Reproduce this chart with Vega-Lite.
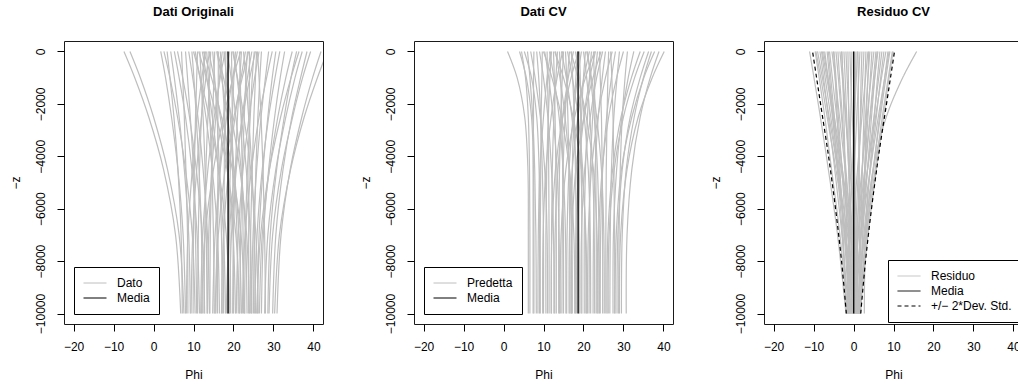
{
  "$schema": "https://vega.github.io/schema/vega-lite/v6.json",
  "background": "white",
  "padding": {"left": 8, "top": 5, "right": 5, "bottom": 5},
  "config": {
    "font": "Liberation Sans",
    "view": {"stroke": "#1a1a1a", "strokeWidth": 1},
    "axis": {
      "domain": false, "grid": false, "ticks": true, "tickColor": "#000", "tickSize": 7, "tickWidth": 1,
      "labelFont": "Liberation Sans", "labelFontSize": 12, "labelColor": "#000", "format": "d",
      "titleFont": "Liberation Sans", "titleFontSize": 12, "titleFontWeight": "normal", "titleColor": "#000"
    },
    "axisX": {"labelPadding": 10, "titlePadding": 17, "labelAngle": 0},
    "axisY": {"labelAngle": -90, "labelAlign": "center", "labelBaseline": "bottom", "labelPadding": 10, "titlePadding": 12},
    "title": {"font": "Liberation Sans", "fontSize": 13, "fontWeight": "bold", "color": "#000", "anchor": "middle", "frame": "group", "offset": 22},
    "legend": {
      "orient": "bottom-left", "offset": 10, "strokeColor": "#000", "fillColor": "#fff", "padding": 9, "cornerRadius": 0,
      "labelFont": "Liberation Sans", "labelFontSize": 12, "labelColor": "#000", "labelOffset": 10,
      "symbolType": "stroke", "symbolSize": 529, "symbolStrokeWidth": 1, "rowPadding": 1, "clipHeight": 14
    }
  },
  "datasets": {
    "orig": [
      {"c":1,"z":0,"v":-7.4},{"c":1,"z":-1000,"v":-4.7},{"c":1,"z":-2500,"v":-1.2},{"c":1,"z":-4500,"v":2.5},{"c":1,"z":-7000,"v":5.5},{"c":1,"z":-10000,"v":6.8},
      {"c":2,"z":0,"v":-5.9},{"c":2,"z":-1000,"v":-3.3},{"c":2,"z":-2500,"v":0.0},{"c":2,"z":-4500,"v":3.5},{"c":2,"z":-7000,"v":6.4},{"c":2,"z":-10000,"v":7.6},
      {"c":3,"z":0,"v":1.8},{"c":3,"z":-1000,"v":3.0},{"c":3,"z":-2500,"v":4.5},{"c":3,"z":-4500,"v":6.1},{"c":3,"z":-7000,"v":7.4},{"c":3,"z":-10000,"v":8.0},
      {"c":4,"z":0,"v":2.6},{"c":4,"z":-1000,"v":4.1},{"c":4,"z":-2500,"v":6.0},{"c":4,"z":-4500,"v":8.0},{"c":4,"z":-7000,"v":9.7},{"c":4,"z":-10000,"v":10.4},
      {"c":5,"z":0,"v":3.4},{"c":5,"z":-1000,"v":4.1},{"c":5,"z":-2500,"v":5.1},{"c":5,"z":-4500,"v":6.1},{"c":5,"z":-7000,"v":6.9},{"c":5,"z":-10000,"v":7.2},
      {"c":6,"z":0,"v":4.3},{"c":6,"z":-1000,"v":5.2},{"c":6,"z":-2500,"v":6.4},{"c":6,"z":-4500,"v":7.7},{"c":6,"z":-7000,"v":8.8},{"c":6,"z":-10000,"v":9.2},
      {"c":7,"z":0,"v":5.2},{"c":7,"z":-1000,"v":6.4},{"c":7,"z":-2500,"v":8.0},{"c":7,"z":-4500,"v":9.6},{"c":7,"z":-7000,"v":10.9},{"c":7,"z":-10000,"v":11.5},
      {"c":8,"z":0,"v":6.0},{"c":8,"z":-1000,"v":7.3},{"c":8,"z":-2500,"v":9.0},{"c":8,"z":-4500,"v":10.7},{"c":8,"z":-7000,"v":12.2},{"c":8,"z":-10000,"v":12.8},
      {"c":9,"z":0,"v":7.0},{"c":9,"z":-1000,"v":7.3},{"c":9,"z":-2500,"v":7.7},{"c":9,"z":-4500,"v":8.1},{"c":9,"z":-7000,"v":8.5},{"c":9,"z":-10000,"v":8.6},
      {"c":10,"z":0,"v":8.0},{"c":10,"z":-1000,"v":8.5},{"c":10,"z":-2500,"v":9.2},{"c":10,"z":-4500,"v":10.0},{"c":10,"z":-7000,"v":10.5},{"c":10,"z":-10000,"v":10.8},
      {"c":11,"z":0,"v":8.8},{"c":11,"z":-1000,"v":9.8},{"c":11,"z":-2500,"v":11.1},{"c":11,"z":-4500,"v":12.4},{"c":11,"z":-7000,"v":13.5},{"c":11,"z":-10000,"v":14.0},
      {"c":12,"z":0,"v":9.6},{"c":12,"z":-1000,"v":10.1},{"c":12,"z":-2500,"v":10.7},{"c":12,"z":-4500,"v":11.4},{"c":12,"z":-7000,"v":12.0},{"c":12,"z":-10000,"v":12.2},
      {"c":13,"z":0,"v":10.4},{"c":13,"z":-1000,"v":11.6},{"c":13,"z":-2500,"v":13.1},{"c":13,"z":-4500,"v":14.7},{"c":13,"z":-7000,"v":16.0},{"c":13,"z":-10000,"v":16.5},
      {"c":14,"z":0,"v":11.0},{"c":14,"z":-1000,"v":10.8},{"c":14,"z":-2500,"v":10.5},{"c":14,"z":-4500,"v":10.2},{"c":14,"z":-7000,"v":10.0},{"c":14,"z":-10000,"v":9.9},
      {"c":15,"z":0,"v":11.6},{"c":15,"z":-1000,"v":11.9},{"c":15,"z":-2500,"v":12.4},{"c":15,"z":-4500,"v":12.9},{"c":15,"z":-7000,"v":13.2},{"c":15,"z":-10000,"v":13.4},
      {"c":16,"z":0,"v":12.2},{"c":16,"z":-1000,"v":13.3},{"c":16,"z":-2500,"v":14.7},{"c":16,"z":-4500,"v":16.2},{"c":16,"z":-7000,"v":17.5},{"c":16,"z":-10000,"v":18.0},
      {"c":17,"z":0,"v":12.8},{"c":17,"z":-1000,"v":12.5},{"c":17,"z":-2500,"v":12.0},{"c":17,"z":-4500,"v":11.5},{"c":17,"z":-7000,"v":11.2},{"c":17,"z":-10000,"v":11.0},
      {"c":18,"z":0,"v":13.3},{"c":18,"z":-1000,"v":13.7},{"c":18,"z":-2500,"v":14.1},{"c":18,"z":-4500,"v":14.6},{"c":18,"z":-7000,"v":15.0},{"c":18,"z":-10000,"v":15.2},
      {"c":19,"z":0,"v":13.8},{"c":19,"z":-1000,"v":15.1},{"c":19,"z":-2500,"v":16.7},{"c":19,"z":-4500,"v":18.5},{"c":19,"z":-7000,"v":19.9},{"c":19,"z":-10000,"v":20.5},
      {"c":20,"z":0,"v":14.3},{"c":20,"z":-1000,"v":14.0},{"c":20,"z":-2500,"v":13.6},{"c":20,"z":-4500,"v":13.1},{"c":20,"z":-7000,"v":12.8},{"c":20,"z":-10000,"v":12.6},
      {"c":21,"z":0,"v":14.8},{"c":21,"z":-1000,"v":15.3},{"c":21,"z":-2500,"v":15.9},{"c":21,"z":-4500,"v":16.5},{"c":21,"z":-7000,"v":17.0},{"c":21,"z":-10000,"v":17.2},
      {"c":22,"z":0,"v":15.3},{"c":22,"z":-1000,"v":15.1},{"c":22,"z":-2500,"v":14.8},{"c":22,"z":-4500,"v":14.5},{"c":22,"z":-7000,"v":14.2},{"c":22,"z":-10000,"v":14.1},
      {"c":23,"z":0,"v":15.8},{"c":23,"z":-1000,"v":17.0},{"c":23,"z":-2500,"v":18.5},{"c":23,"z":-4500,"v":20.1},{"c":23,"z":-7000,"v":21.4},{"c":23,"z":-10000,"v":22.0},
      {"c":24,"z":0,"v":16.2},{"c":24,"z":-1000,"v":16.2},{"c":24,"z":-2500,"v":16.1},{"c":24,"z":-4500,"v":16.1},{"c":24,"z":-7000,"v":16.0},{"c":24,"z":-10000,"v":16.0},
      {"c":25,"z":0,"v":16.7},{"c":25,"z":-1000,"v":17.2},{"c":25,"z":-2500,"v":17.8},{"c":25,"z":-4500,"v":18.5},{"c":25,"z":-7000,"v":19.1},{"c":25,"z":-10000,"v":19.3},
      {"c":26,"z":0,"v":17.2},{"c":26,"z":-1000,"v":16.5},{"c":26,"z":-2500,"v":15.6},{"c":26,"z":-4500,"v":14.6},{"c":26,"z":-7000,"v":13.8},{"c":26,"z":-10000,"v":13.5},
      {"c":27,"z":0,"v":17.6},{"c":27,"z":-1000,"v":18.3},{"c":27,"z":-2500,"v":19.2},{"c":27,"z":-4500,"v":20.1},{"c":27,"z":-7000,"v":20.9},{"c":27,"z":-10000,"v":21.2},
      {"c":28,"z":0,"v":18.1},{"c":28,"z":-1000,"v":18.0},{"c":28,"z":-2500,"v":17.8},{"c":28,"z":-4500,"v":17.7},{"c":28,"z":-7000,"v":17.6},{"c":28,"z":-10000,"v":17.5},
      {"c":29,"z":0,"v":18.5},{"c":29,"z":-1000,"v":19.4},{"c":29,"z":-2500,"v":20.6},{"c":29,"z":-4500,"v":21.9},{"c":29,"z":-7000,"v":23.0},{"c":29,"z":-10000,"v":23.4},
      {"c":30,"z":0,"v":19.0},{"c":30,"z":-1000,"v":18.4},{"c":30,"z":-2500,"v":17.5},{"c":30,"z":-4500,"v":16.6},{"c":30,"z":-7000,"v":15.9},{"c":30,"z":-10000,"v":15.6},
      {"c":31,"z":0,"v":19.5},{"c":31,"z":-1000,"v":19.6},{"c":31,"z":-2500,"v":19.7},{"c":31,"z":-4500,"v":19.8},{"c":31,"z":-7000,"v":20.0},{"c":31,"z":-10000,"v":20.0},
      {"c":32,"z":0,"v":20.0},{"c":32,"z":-1000,"v":20.9},{"c":32,"z":-2500,"v":22.0},{"c":32,"z":-4500,"v":23.2},{"c":32,"z":-7000,"v":24.2},{"c":32,"z":-10000,"v":24.6},
      {"c":33,"z":0,"v":20.5},{"c":33,"z":-1000,"v":20.1},{"c":33,"z":-2500,"v":19.7},{"c":33,"z":-4500,"v":19.2},{"c":33,"z":-7000,"v":18.8},{"c":33,"z":-10000,"v":18.6},
      {"c":34,"z":0,"v":21.0},{"c":34,"z":-1000,"v":19.8},{"c":34,"z":-2500,"v":18.3},{"c":34,"z":-4500,"v":16.7},{"c":34,"z":-7000,"v":15.4},{"c":34,"z":-10000,"v":14.8},
      {"c":35,"z":0,"v":21.5},{"c":35,"z":-1000,"v":21.7},{"c":35,"z":-2500,"v":21.9},{"c":35,"z":-4500,"v":22.2},{"c":35,"z":-7000,"v":22.4},{"c":35,"z":-10000,"v":22.5},
      {"c":36,"z":0,"v":22.0},{"c":36,"z":-1000,"v":21.6},{"c":36,"z":-2500,"v":21.0},{"c":36,"z":-4500,"v":20.5},{"c":36,"z":-7000,"v":20.0},{"c":36,"z":-10000,"v":19.8},
      {"c":37,"z":0,"v":22.5},{"c":37,"z":-1000,"v":23.1},{"c":37,"z":-2500,"v":23.8},{"c":37,"z":-4500,"v":24.6},{"c":37,"z":-7000,"v":25.2},{"c":37,"z":-10000,"v":25.5},
      {"c":38,"z":0,"v":23.0},{"c":38,"z":-1000,"v":21.9},{"c":38,"z":-2500,"v":20.4},{"c":38,"z":-4500,"v":18.8},{"c":38,"z":-7000,"v":17.5},{"c":38,"z":-10000,"v":17.0},
      {"c":39,"z":0,"v":23.5},{"c":39,"z":-1000,"v":23.1},{"c":39,"z":-2500,"v":22.7},{"c":39,"z":-4500,"v":22.2},{"c":39,"z":-7000,"v":21.8},{"c":39,"z":-10000,"v":21.6},
      {"c":40,"z":0,"v":24.0},{"c":40,"z":-1000,"v":24.0},{"c":40,"z":-2500,"v":23.9},{"c":40,"z":-4500,"v":23.9},{"c":40,"z":-7000,"v":23.8},{"c":40,"z":-10000,"v":23.8},
      {"c":41,"z":0,"v":24.6},{"c":41,"z":-1000,"v":23.5},{"c":41,"z":-2500,"v":22.2},{"c":41,"z":-4500,"v":20.7},{"c":41,"z":-7000,"v":19.5},{"c":41,"z":-10000,"v":19.0},
      {"c":42,"z":0,"v":25.2},{"c":42,"z":-1000,"v":24.7},{"c":42,"z":-2500,"v":24.2},{"c":42,"z":-4500,"v":23.5},{"c":42,"z":-7000,"v":23.0},{"c":42,"z":-10000,"v":22.8},
      {"c":43,"z":0,"v":25.8},{"c":43,"z":-1000,"v":25.5},{"c":43,"z":-2500,"v":25.1},{"c":43,"z":-4500,"v":24.7},{"c":43,"z":-7000,"v":24.3},{"c":43,"z":-10000,"v":24.2},
      {"c":44,"z":0,"v":26.4},{"c":44,"z":-1000,"v":25.3},{"c":44,"z":-2500,"v":23.9},{"c":44,"z":-4500,"v":22.4},{"c":44,"z":-7000,"v":21.2},{"c":44,"z":-10000,"v":20.7},
      {"c":45,"z":0,"v":27.0},{"c":45,"z":-1000,"v":26.6},{"c":45,"z":-2500,"v":26.1},{"c":45,"z":-4500,"v":25.6},{"c":45,"z":-7000,"v":25.2},{"c":45,"z":-10000,"v":25.0},
      {"c":46,"z":0,"v":28.8},{"c":46,"z":-1000,"v":28.0},{"c":46,"z":-2500,"v":26.9},{"c":46,"z":-4500,"v":25.8},{"c":46,"z":-7000,"v":24.9},{"c":46,"z":-10000,"v":24.5},
      {"c":47,"z":0,"v":29.7},{"c":47,"z":-1000,"v":28.3},{"c":47,"z":-2500,"v":26.4},{"c":47,"z":-4500,"v":24.5},{"c":47,"z":-7000,"v":22.9},{"c":47,"z":-10000,"v":22.2},
      {"c":48,"z":0,"v":30.6},{"c":48,"z":-1000,"v":29.7},{"c":48,"z":-2500,"v":28.6},{"c":48,"z":-4500,"v":27.4},{"c":48,"z":-7000,"v":26.4},{"c":48,"z":-10000,"v":26.0},
      {"c":49,"z":0,"v":31.6},{"c":49,"z":-1000,"v":30.4},{"c":49,"z":-2500,"v":28.8},{"c":49,"z":-4500,"v":27.2},{"c":49,"z":-7000,"v":25.9},{"c":49,"z":-10000,"v":25.3},
      {"c":50,"z":0,"v":32.8},{"c":50,"z":-1000,"v":31.7},{"c":50,"z":-2500,"v":30.3},{"c":50,"z":-4500,"v":28.8},{"c":50,"z":-7000,"v":27.5},{"c":50,"z":-10000,"v":27.0},
      {"c":51,"z":0,"v":34.7},{"c":51,"z":-1000,"v":33.1},{"c":51,"z":-2500,"v":31.1},{"c":51,"z":-4500,"v":29.0},{"c":51,"z":-7000,"v":27.2},{"c":51,"z":-10000,"v":26.5},
      {"c":52,"z":0,"v":35.8},{"c":52,"z":-1000,"v":34.4},{"c":52,"z":-2500,"v":32.7},{"c":52,"z":-4500,"v":30.8},{"c":52,"z":-7000,"v":29.2},{"c":52,"z":-10000,"v":28.6},
      {"c":53,"z":0,"v":37.2},{"c":53,"z":-1000,"v":35.4},{"c":53,"z":-2500,"v":33.1},{"c":53,"z":-4500,"v":30.6},{"c":53,"z":-7000,"v":28.6},{"c":53,"z":-10000,"v":27.8},
      {"c":54,"z":0,"v":38.4},{"c":54,"z":-1000,"v":36.8},{"c":54,"z":-2500,"v":34.6},{"c":54,"z":-4500,"v":32.4},{"c":54,"z":-7000,"v":30.6},{"c":54,"z":-10000,"v":29.8},
      {"c":55,"z":0,"v":39.3},{"c":55,"z":-1000,"v":37.3},{"c":55,"z":-2500,"v":34.8},{"c":55,"z":-4500,"v":32.0},{"c":55,"z":-7000,"v":29.8},{"c":55,"z":-10000,"v":28.9},
      {"c":56,"z":0,"v":41.9},{"c":56,"z":-1000,"v":39.8},{"c":56,"z":-2500,"v":37.1},{"c":56,"z":-4500,"v":34.2},{"c":56,"z":-7000,"v":31.9},{"c":56,"z":-10000,"v":30.9},
      {"c":57,"z":0,"v":43.5},{"c":57,"z":-1000,"v":41.0},{"c":57,"z":-2500,"v":37.7},{"c":57,"z":-4500,"v":34.3},{"c":57,"z":-7000,"v":31.5},{"c":57,"z":-10000,"v":30.3},
      {"c":58,"z":0,"v":36.4},{"c":58,"z":-1000,"v":34.4},{"c":58,"z":-2500,"v":31.8},{"c":58,"z":-4500,"v":29.0},{"c":58,"z":-7000,"v":26.8},{"c":58,"z":-10000,"v":25.8},
      {"c":59,"z":0,"v":10.0},{"c":59,"z":-1000,"v":11.7},{"c":59,"z":-2500,"v":13.9},{"c":59,"z":-4500,"v":16.3},{"c":59,"z":-7000,"v":18.2},{"c":59,"z":-10000,"v":19.0},
      {"c":60,"z":0,"v":12.5},{"c":60,"z":-1000,"v":14.5},{"c":60,"z":-2500,"v":17.0},{"c":60,"z":-4500,"v":19.7},{"c":60,"z":-7000,"v":21.9},{"c":60,"z":-10000,"v":22.8},
      {"c":61,"z":0,"v":14.0},{"c":61,"z":-1000,"v":13.1},{"c":61,"z":-2500,"v":12.0},{"c":61,"z":-4500,"v":10.8},{"c":61,"z":-7000,"v":9.8},{"c":61,"z":-10000,"v":9.4},
      {"c":62,"z":0,"v":16.0},{"c":62,"z":-1000,"v":17.5},{"c":62,"z":-2500,"v":19.5},{"c":62,"z":-4500,"v":21.6},{"c":62,"z":-7000,"v":23.3},{"c":62,"z":-10000,"v":24.0},
      {"c":63,"z":0,"v":17.9},{"c":63,"z":-1000,"v":16.7},{"c":63,"z":-2500,"v":15.2},{"c":63,"z":-4500,"v":13.6},{"c":63,"z":-7000,"v":12.3},{"c":63,"z":-10000,"v":11.8},
      {"c":64,"z":0,"v":19.8},{"c":64,"z":-1000,"v":21.0},{"c":64,"z":-2500,"v":22.6},{"c":64,"z":-4500,"v":24.3},{"c":64,"z":-7000,"v":25.6},{"c":64,"z":-10000,"v":26.2},
      {"c":65,"z":0,"v":21.8},{"c":65,"z":-1000,"v":19.9},{"c":65,"z":-2500,"v":17.5},{"c":65,"z":-4500,"v":15.0},{"c":65,"z":-7000,"v":12.9},{"c":65,"z":-10000,"v":12.0},
      {"c":66,"z":0,"v":23.8},{"c":66,"z":-1000,"v":22.2},{"c":66,"z":-2500,"v":20.1},{"c":66,"z":-4500,"v":17.9},{"c":66,"z":-7000,"v":16.2},{"c":66,"z":-10000,"v":15.4},
      {"c":67,"z":0,"v":25.5},{"c":67,"z":-1000,"v":24.1},{"c":67,"z":-2500,"v":22.3},{"c":67,"z":-4500,"v":20.4},{"c":67,"z":-7000,"v":18.9},{"c":67,"z":-10000,"v":18.2},
      {"c":68,"z":0,"v":13.0},{"c":68,"z":-1000,"v":12.1},{"c":68,"z":-2500,"v":10.9},{"c":68,"z":-4500,"v":9.7},{"c":68,"z":-7000,"v":8.6},{"c":68,"z":-10000,"v":8.2},
      {"c":69,"z":0,"v":26.0},{"c":69,"z":-1000,"v":26.4},{"c":69,"z":-2500,"v":26.9},{"c":69,"z":-4500,"v":27.4},{"c":69,"z":-7000,"v":27.8},{"c":69,"z":-10000,"v":28.0},
      {"c":70,"z":0,"v":11.3},{"c":70,"z":-1000,"v":13.2},{"c":70,"z":-2500,"v":15.8},{"c":70,"z":-4500,"v":18.4},{"c":70,"z":-7000,"v":20.6},{"c":70,"z":-10000,"v":21.5}
    ],
    "cv": [
      {"c":1,"z":0,"v":1.0},{"c":1,"z":-1000,"v":3.4},{"c":1,"z":-2500,"v":5.3},{"c":1,"z":-4500,"v":6.1},{"c":1,"z":-7000,"v":6.2},{"c":1,"z":-10000,"v":6.2},
      {"c":2,"z":0,"v":4.0},{"c":2,"z":-1000,"v":5.7},{"c":2,"z":-2500,"v":7.0},{"c":2,"z":-4500,"v":7.5},{"c":2,"z":-7000,"v":7.6},{"c":2,"z":-10000,"v":7.6},
      {"c":3,"z":0,"v":4.5},{"c":3,"z":-1000,"v":5.5},{"c":3,"z":-2500,"v":6.2},{"c":3,"z":-4500,"v":6.5},{"c":3,"z":-7000,"v":6.6},{"c":3,"z":-10000,"v":6.6},
      {"c":4,"z":0,"v":5.2},{"c":4,"z":-1000,"v":7.0},{"c":4,"z":-2500,"v":8.3},{"c":4,"z":-4500,"v":8.9},{"c":4,"z":-7000,"v":9.0},{"c":4,"z":-10000,"v":9.0},
      {"c":5,"z":0,"v":6.0},{"c":5,"z":-1000,"v":6.6},{"c":5,"z":-2500,"v":7.3},{"c":5,"z":-4500,"v":7.8},{"c":5,"z":-7000,"v":8.1},{"c":5,"z":-10000,"v":8.2},
      {"c":6,"z":0,"v":6.8},{"c":6,"z":-1000,"v":7.9},{"c":6,"z":-2500,"v":9.2},{"c":6,"z":-4500,"v":10.3},{"c":6,"z":-7000,"v":10.9},{"c":6,"z":-10000,"v":11.0},
      {"c":7,"z":0,"v":7.6},{"c":7,"z":-1000,"v":7.5},{"c":7,"z":-2500,"v":7.5},{"c":7,"z":-4500,"v":7.4},{"c":7,"z":-7000,"v":7.4},{"c":7,"z":-10000,"v":7.4},
      {"c":8,"z":0,"v":8.3},{"c":8,"z":-1000,"v":8.8},{"c":8,"z":-2500,"v":9.3},{"c":8,"z":-4500,"v":9.7},{"c":8,"z":-7000,"v":10.0},{"c":8,"z":-10000,"v":10.0},
      {"c":9,"z":0,"v":9.0},{"c":9,"z":-1000,"v":10.0},{"c":9,"z":-2500,"v":11.1},{"c":9,"z":-4500,"v":12.0},{"c":9,"z":-7000,"v":12.5},{"c":9,"z":-10000,"v":12.6},
      {"c":10,"z":0,"v":9.7},{"c":10,"z":-1000,"v":9.6},{"c":10,"z":-2500,"v":9.4},{"c":10,"z":-4500,"v":9.3},{"c":10,"z":-7000,"v":9.2},{"c":10,"z":-10000,"v":9.2},
      {"c":11,"z":0,"v":10.3},{"c":11,"z":-1000,"v":11.3},{"c":11,"z":-2500,"v":12.4},{"c":11,"z":-4500,"v":13.4},{"c":11,"z":-7000,"v":13.9},{"c":11,"z":-10000,"v":14.0},
      {"c":12,"z":0,"v":10.9},{"c":12,"z":-1000,"v":11.0},{"c":12,"z":-2500,"v":11.2},{"c":12,"z":-4500,"v":11.3},{"c":12,"z":-7000,"v":11.4},{"c":12,"z":-10000,"v":11.4},
      {"c":13,"z":0,"v":11.5},{"c":13,"z":-1000,"v":12.6},{"c":13,"z":-2500,"v":13.9},{"c":13,"z":-4500,"v":14.9},{"c":13,"z":-7000,"v":15.5},{"c":13,"z":-10000,"v":15.6},
      {"c":14,"z":0,"v":12.0},{"c":14,"z":-1000,"v":11.6},{"c":14,"z":-2500,"v":11.2},{"c":14,"z":-4500,"v":10.8},{"c":14,"z":-7000,"v":10.6},{"c":14,"z":-10000,"v":10.6},
      {"c":15,"z":0,"v":12.5},{"c":15,"z":-1000,"v":12.7},{"c":15,"z":-2500,"v":12.9},{"c":15,"z":-4500,"v":13.1},{"c":15,"z":-7000,"v":13.2},{"c":15,"z":-10000,"v":13.2},
      {"c":16,"z":0,"v":13.0},{"c":16,"z":-1000,"v":14.1},{"c":16,"z":-2500,"v":15.4},{"c":16,"z":-4500,"v":16.5},{"c":16,"z":-7000,"v":17.1},{"c":16,"z":-10000,"v":17.2},
      {"c":17,"z":0,"v":13.5},{"c":17,"z":-1000,"v":13.1},{"c":17,"z":-2500,"v":12.6},{"c":17,"z":-4500,"v":12.2},{"c":17,"z":-7000,"v":12.0},{"c":17,"z":-10000,"v":12.0},
      {"c":18,"z":0,"v":14.0},{"c":18,"z":-1000,"v":14.3},{"c":18,"z":-2500,"v":14.6},{"c":18,"z":-4500,"v":14.8},{"c":18,"z":-7000,"v":15.0},{"c":18,"z":-10000,"v":15.0},
      {"c":19,"z":0,"v":14.5},{"c":19,"z":-1000,"v":15.7},{"c":19,"z":-2500,"v":17.1},{"c":19,"z":-4500,"v":18.3},{"c":19,"z":-7000,"v":18.9},{"c":19,"z":-10000,"v":19.0},
      {"c":20,"z":0,"v":15.0},{"c":20,"z":-1000,"v":14.7},{"c":20,"z":-2500,"v":14.3},{"c":20,"z":-4500,"v":14.0},{"c":20,"z":-7000,"v":13.8},{"c":20,"z":-10000,"v":13.8},
      {"c":21,"z":0,"v":15.5},{"c":21,"z":-1000,"v":15.8},{"c":21,"z":-2500,"v":16.1},{"c":21,"z":-4500,"v":16.4},{"c":21,"z":-7000,"v":16.6},{"c":21,"z":-10000,"v":16.6},
      {"c":22,"z":0,"v":16.0},{"c":22,"z":-1000,"v":17.2},{"c":22,"z":-2500,"v":18.7},{"c":22,"z":-4500,"v":19.8},{"c":22,"z":-7000,"v":20.5},{"c":22,"z":-10000,"v":20.6},
      {"c":23,"z":0,"v":16.5},{"c":23,"z":-1000,"v":16.0},{"c":23,"z":-2500,"v":15.4},{"c":23,"z":-4500,"v":14.9},{"c":23,"z":-7000,"v":14.7},{"c":23,"z":-10000,"v":14.6},
      {"c":24,"z":0,"v":17.0},{"c":24,"z":-1000,"v":17.3},{"c":24,"z":-2500,"v":17.7},{"c":24,"z":-4500,"v":18.0},{"c":24,"z":-7000,"v":18.2},{"c":24,"z":-10000,"v":18.2},
      {"c":25,"z":0,"v":17.5},{"c":25,"z":-1000,"v":16.2},{"c":25,"z":-2500,"v":14.8},{"c":25,"z":-4500,"v":13.6},{"c":25,"z":-7000,"v":12.9},{"c":25,"z":-10000,"v":12.8},
      {"c":26,"z":0,"v":18.0},{"c":26,"z":-1000,"v":19.0},{"c":26,"z":-2500,"v":20.2},{"c":26,"z":-4500,"v":21.2},{"c":26,"z":-7000,"v":21.7},{"c":26,"z":-10000,"v":21.8},
      {"c":27,"z":0,"v":18.5},{"c":27,"z":-1000,"v":18.1},{"c":27,"z":-2500,"v":17.6},{"c":27,"z":-4500,"v":17.2},{"c":27,"z":-7000,"v":17.0},{"c":27,"z":-10000,"v":17.0},
      {"c":28,"z":0,"v":19.0},{"c":28,"z":-1000,"v":19.2},{"c":28,"z":-2500,"v":19.3},{"c":28,"z":-4500,"v":19.5},{"c":28,"z":-7000,"v":19.6},{"c":28,"z":-10000,"v":19.6},
      {"c":29,"z":0,"v":19.5},{"c":29,"z":-1000,"v":18.5},{"c":29,"z":-2500,"v":17.4},{"c":29,"z":-4500,"v":16.4},{"c":29,"z":-7000,"v":15.9},{"c":29,"z":-10000,"v":15.8},
      {"c":30,"z":0,"v":20.0},{"c":30,"z":-1000,"v":20.8},{"c":30,"z":-2500,"v":21.6},{"c":30,"z":-4500,"v":22.3},{"c":30,"z":-7000,"v":22.7},{"c":30,"z":-10000,"v":22.8},
      {"c":31,"z":0,"v":20.5},{"c":31,"z":-1000,"v":20.0},{"c":31,"z":-2500,"v":19.5},{"c":31,"z":-4500,"v":19.1},{"c":31,"z":-7000,"v":18.8},{"c":31,"z":-10000,"v":18.8},
      {"c":32,"z":0,"v":21.0},{"c":32,"z":-1000,"v":21.8},{"c":32,"z":-2500,"v":22.7},{"c":32,"z":-4500,"v":23.5},{"c":32,"z":-7000,"v":23.9},{"c":32,"z":-10000,"v":24.0},
      {"c":33,"z":0,"v":21.5},{"c":33,"z":-1000,"v":20.1},{"c":33,"z":-2500,"v":18.6},{"c":33,"z":-4500,"v":17.2},{"c":33,"z":-7000,"v":16.5},{"c":33,"z":-10000,"v":16.4},
      {"c":34,"z":0,"v":22.0},{"c":34,"z":-1000,"v":21.5},{"c":34,"z":-2500,"v":21.0},{"c":34,"z":-4500,"v":20.5},{"c":34,"z":-7000,"v":20.2},{"c":34,"z":-10000,"v":20.2},
      {"c":35,"z":0,"v":22.5},{"c":35,"z":-1000,"v":22.7},{"c":35,"z":-2500,"v":22.9},{"c":35,"z":-4500,"v":23.1},{"c":35,"z":-7000,"v":23.2},{"c":35,"z":-10000,"v":23.2},
      {"c":36,"z":0,"v":23.0},{"c":36,"z":-1000,"v":21.6},{"c":36,"z":-2500,"v":20.1},{"c":36,"z":-4500,"v":18.8},{"c":36,"z":-7000,"v":18.1},{"c":36,"z":-10000,"v":18.0},
      {"c":37,"z":0,"v":23.5},{"c":37,"z":-1000,"v":22.9},{"c":37,"z":-2500,"v":22.3},{"c":37,"z":-4500,"v":21.7},{"c":37,"z":-7000,"v":21.5},{"c":37,"z":-10000,"v":21.4},
      {"c":38,"z":0,"v":24.0},{"c":38,"z":-1000,"v":24.2},{"c":38,"z":-2500,"v":24.5},{"c":38,"z":-4500,"v":24.7},{"c":38,"z":-7000,"v":24.8},{"c":38,"z":-10000,"v":24.8},
      {"c":39,"z":0,"v":24.8},{"c":39,"z":-1000,"v":23.3},{"c":39,"z":-2500,"v":21.7},{"c":39,"z":-4500,"v":20.3},{"c":39,"z":-7000,"v":19.5},{"c":39,"z":-10000,"v":19.4},
      {"c":40,"z":0,"v":25.5},{"c":40,"z":-1000,"v":24.7},{"c":40,"z":-2500,"v":23.7},{"c":40,"z":-4500,"v":22.9},{"c":40,"z":-7000,"v":22.5},{"c":40,"z":-10000,"v":22.4},
      {"c":41,"z":0,"v":26.3},{"c":41,"z":-1000,"v":26.1},{"c":41,"z":-2500,"v":25.9},{"c":41,"z":-4500,"v":25.7},{"c":41,"z":-7000,"v":25.6},{"c":41,"z":-10000,"v":25.6},
      {"c":42,"z":0,"v":27.2},{"c":42,"z":-1000,"v":25.5},{"c":42,"z":-2500,"v":23.6},{"c":42,"z":-4500,"v":22.0},{"c":42,"z":-7000,"v":21.2},{"c":42,"z":-10000,"v":21.0},
      {"c":43,"z":0,"v":28.0},{"c":43,"z":-1000,"v":27.0},{"c":43,"z":-2500,"v":25.8},{"c":43,"z":-4500,"v":24.8},{"c":43,"z":-7000,"v":24.3},{"c":43,"z":-10000,"v":24.2},
      {"c":44,"z":0,"v":29.0},{"c":44,"z":-1000,"v":28.4},{"c":44,"z":-2500,"v":27.6},{"c":44,"z":-4500,"v":27.0},{"c":44,"z":-7000,"v":26.7},{"c":44,"z":-10000,"v":26.6},
      {"c":45,"z":0,"v":30.0},{"c":45,"z":-1000,"v":28.3},{"c":45,"z":-2500,"v":26.3},{"c":45,"z":-4500,"v":24.7},{"c":45,"z":-7000,"v":23.8},{"c":45,"z":-10000,"v":23.6},
      {"c":46,"z":0,"v":32.6},{"c":46,"z":-1000,"v":31.2},{"c":46,"z":-2500,"v":29.6},{"c":46,"z":-4500,"v":28.3},{"c":46,"z":-7000,"v":27.5},{"c":46,"z":-10000,"v":27.4},
      {"c":47,"z":0,"v":34.2},{"c":47,"z":-1000,"v":32.0},{"c":47,"z":-2500,"v":29.4},{"c":47,"z":-4500,"v":27.3},{"c":47,"z":-7000,"v":26.1},{"c":47,"z":-10000,"v":25.9},
      {"c":48,"z":0,"v":36.3},{"c":48,"z":-1000,"v":34.2},{"c":48,"z":-2500,"v":31.7},{"c":48,"z":-4500,"v":29.7},{"c":48,"z":-7000,"v":28.6},{"c":48,"z":-10000,"v":28.4},
      {"c":49,"z":0,"v":37.0},{"c":49,"z":-1000,"v":35.0},{"c":49,"z":-2500,"v":32.7},{"c":49,"z":-4500,"v":30.7},{"c":49,"z":-7000,"v":29.7},{"c":49,"z":-10000,"v":29.5},
      {"c":50,"z":0,"v":37.8},{"c":50,"z":-1000,"v":35.1},{"c":50,"z":-2500,"v":32.1},{"c":50,"z":-4500,"v":29.5},{"c":50,"z":-7000,"v":28.2},{"c":50,"z":-10000,"v":27.9},
      {"c":51,"z":0,"v":38.9},{"c":51,"z":-1000,"v":36.7},{"c":51,"z":-2500,"v":34.2},{"c":51,"z":-4500,"v":32.1},{"c":51,"z":-7000,"v":30.9},{"c":51,"z":-10000,"v":30.7},
      {"c":52,"z":0,"v":40.2},{"c":52,"z":-1000,"v":37.2},{"c":52,"z":-2500,"v":33.7},{"c":52,"z":-4500,"v":30.9},{"c":52,"z":-7000,"v":29.3},{"c":52,"z":-10000,"v":29.0},
      {"c":53,"z":0,"v":35.2},{"c":53,"z":-1000,"v":32.8},{"c":53,"z":-2500,"v":30.0},{"c":53,"z":-4500,"v":27.7},{"c":53,"z":-7000,"v":26.4},{"c":53,"z":-10000,"v":26.2},
      {"c":54,"z":0,"v":31.0},{"c":54,"z":-1000,"v":30.4},{"c":54,"z":-2500,"v":29.7},{"c":54,"z":-4500,"v":29.2},{"c":54,"z":-7000,"v":28.9},{"c":54,"z":-10000,"v":28.8},
      {"c":55,"z":0,"v":10.0},{"c":55,"z":-1000,"v":12.1},{"c":55,"z":-2500,"v":14.5},{"c":55,"z":-4500,"v":16.5},{"c":55,"z":-7000,"v":17.6},{"c":55,"z":-10000,"v":17.8},
      {"c":56,"z":0,"v":12.8},{"c":56,"z":-1000,"v":15.0},{"c":56,"z":-2500,"v":17.4},{"c":56,"z":-4500,"v":19.5},{"c":56,"z":-7000,"v":20.6},{"c":56,"z":-10000,"v":20.8},
      {"c":57,"z":0,"v":14.8},{"c":57,"z":-1000,"v":13.4},{"c":57,"z":-2500,"v":11.9},{"c":57,"z":-4500,"v":10.6},{"c":57,"z":-7000,"v":9.9},{"c":57,"z":-10000,"v":9.8},
      {"c":58,"z":0,"v":16.8},{"c":58,"z":-1000,"v":18.6},{"c":58,"z":-2500,"v":20.7},{"c":58,"z":-4500,"v":22.5},{"c":58,"z":-7000,"v":23.4},{"c":58,"z":-10000,"v":23.6},
      {"c":59,"z":0,"v":18.8},{"c":59,"z":-1000,"v":16.9},{"c":59,"z":-2500,"v":14.8},{"c":59,"z":-4500,"v":13.0},{"c":59,"z":-7000,"v":12.1},{"c":59,"z":-10000,"v":11.9},
      {"c":60,"z":0,"v":20.8},{"c":60,"z":-1000,"v":22.0},{"c":60,"z":-2500,"v":23.3},{"c":60,"z":-4500,"v":24.5},{"c":60,"z":-7000,"v":25.1},{"c":60,"z":-10000,"v":25.2},
      {"c":61,"z":0,"v":22.8},{"c":61,"z":-1000,"v":20.5},{"c":61,"z":-2500,"v":17.8},{"c":61,"z":-4500,"v":15.6},{"c":61,"z":-7000,"v":14.4},{"c":61,"z":-10000,"v":14.2},
      {"c":62,"z":0,"v":24.4},{"c":62,"z":-1000,"v":22.4},{"c":62,"z":-2500,"v":20.1},{"c":62,"z":-4500,"v":18.1},{"c":62,"z":-7000,"v":17.1},{"c":62,"z":-10000,"v":16.9},
      {"c":63,"z":0,"v":11.8},{"c":63,"z":-1000,"v":10.9},{"c":63,"z":-2500,"v":10.0},{"c":63,"z":-4500,"v":9.1},{"c":63,"z":-7000,"v":8.7},{"c":63,"z":-10000,"v":8.6},
      {"c":64,"z":0,"v":26.8},{"c":64,"z":-1000,"v":27.1},{"c":64,"z":-2500,"v":27.4},{"c":64,"z":-4500,"v":27.6},{"c":64,"z":-7000,"v":27.8},{"c":64,"z":-10000,"v":27.8}
    ],
    "res": [
      {"c":1,"z":0,"v":-11.0},{"c":1,"z":-1000,"v":-9.9},{"c":1,"z":-2500,"v":-8.3},{"c":1,"z":-4500,"v":-6.3},{"c":1,"z":-7000,"v":-4.0},{"c":1,"z":-10000,"v":-1.9},
      {"c":2,"z":0,"v":-9.6},{"c":2,"z":-1000,"v":-8.6},{"c":2,"z":-2500,"v":-7.2},{"c":2,"z":-4500,"v":-5.5},{"c":2,"z":-7000,"v":-3.4},{"c":2,"z":-10000,"v":-1.5},
      {"c":3,"z":0,"v":-9.0},{"c":3,"z":-1000,"v":-7.8},{"c":3,"z":-2500,"v":-6.1},{"c":3,"z":-4500,"v":-4.0},{"c":3,"z":-7000,"v":-1.5},{"c":3,"z":-10000,"v":0.8},
      {"c":4,"z":0,"v":-8.4},{"c":4,"z":-1000,"v":-7.5},{"c":4,"z":-2500,"v":-6.3},{"c":4,"z":-4500,"v":-4.7},{"c":4,"z":-7000,"v":-2.9},{"c":4,"z":-10000,"v":-1.2},
      {"c":5,"z":0,"v":-7.8},{"c":5,"z":-1000,"v":-6.7},{"c":5,"z":-2500,"v":-5.1},{"c":5,"z":-4500,"v":-3.1},{"c":5,"z":-7000,"v":-0.8},{"c":5,"z":-10000,"v":1.3},
      {"c":6,"z":0,"v":-7.2},{"c":6,"z":-1000,"v":-6.4},{"c":6,"z":-2500,"v":-5.3},{"c":6,"z":-4500,"v":-3.8},{"c":6,"z":-7000,"v":-2.2},{"c":6,"z":-10000,"v":-0.6},
      {"c":7,"z":0,"v":-6.6},{"c":7,"z":-1000,"v":-6.0},{"c":7,"z":-2500,"v":-5.1},{"c":7,"z":-4500,"v":-4.0},{"c":7,"z":-7000,"v":-2.8},{"c":7,"z":-10000,"v":-1.6},
      {"c":8,"z":0,"v":-6.0},{"c":8,"z":-1000,"v":-5.3},{"c":8,"z":-2500,"v":-4.2},{"c":8,"z":-4500,"v":-2.8},{"c":8,"z":-7000,"v":-1.3},{"c":8,"z":-10000,"v":0.2},
      {"c":9,"z":0,"v":-5.4},{"c":9,"z":-1000,"v":-4.6},{"c":9,"z":-2500,"v":-3.5},{"c":9,"z":-4500,"v":-2.1},{"c":9,"z":-7000,"v":-0.5},{"c":9,"z":-10000,"v":1.0},
      {"c":10,"z":0,"v":-4.9},{"c":10,"z":-1000,"v":-4.4},{"c":10,"z":-2500,"v":-3.8},{"c":10,"z":-4500,"v":-2.9},{"c":10,"z":-7000,"v":-1.9},{"c":10,"z":-10000,"v":-1.0},
      {"c":11,"z":0,"v":-4.4},{"c":11,"z":-1000,"v":-3.8},{"c":11,"z":-2500,"v":-3.0},{"c":11,"z":-4500,"v":-1.9},{"c":11,"z":-7000,"v":-0.7},{"c":11,"z":-10000,"v":0.5},
      {"c":12,"z":0,"v":-3.9},{"c":12,"z":-1000,"v":-3.5},{"c":12,"z":-2500,"v":-2.8},{"c":12,"z":-4500,"v":-2.1},{"c":12,"z":-7000,"v":-1.2},{"c":12,"z":-10000,"v":-0.3},
      {"c":13,"z":0,"v":-3.4},{"c":13,"z":-1000,"v":-2.8},{"c":13,"z":-2500,"v":-2.0},{"c":13,"z":-4500,"v":-0.9},{"c":13,"z":-7000,"v":0.3},{"c":13,"z":-10000,"v":1.5},
      {"c":14,"z":0,"v":-2.9},{"c":14,"z":-1000,"v":-2.7},{"c":14,"z":-2500,"v":-2.4},{"c":14,"z":-4500,"v":-2.1},{"c":14,"z":-7000,"v":-1.7},{"c":14,"z":-10000,"v":-1.3},
      {"c":15,"z":0,"v":-2.4},{"c":15,"z":-1000,"v":-2.1},{"c":15,"z":-2500,"v":-1.7},{"c":15,"z":-4500,"v":-1.2},{"c":15,"z":-7000,"v":-0.6},{"c":15,"z":-10000,"v":0.0},
      {"c":16,"z":0,"v":-1.9},{"c":16,"z":-1000,"v":-1.6},{"c":16,"z":-2500,"v":-1.1},{"c":16,"z":-4500,"v":-0.5},{"c":16,"z":-7000,"v":0.2},{"c":16,"z":-10000,"v":0.9},
      {"c":17,"z":0,"v":-1.4},{"c":17,"z":-1000,"v":-1.3},{"c":17,"z":-2500,"v":-1.2},{"c":17,"z":-4500,"v":-1.1},{"c":17,"z":-7000,"v":-0.9},{"c":17,"z":-10000,"v":-0.8},
      {"c":18,"z":0,"v":-0.9},{"c":18,"z":-1000,"v":-0.7},{"c":18,"z":-2500,"v":-0.3},{"c":18,"z":-4500,"v":0.2},{"c":18,"z":-7000,"v":0.7},{"c":18,"z":-10000,"v":1.2},
      {"c":19,"z":0,"v":-0.4},{"c":19,"z":-1000,"v":-0.5},{"c":19,"z":-2500,"v":-0.7},{"c":19,"z":-4500,"v":-0.9},{"c":19,"z":-7000,"v":-1.2},{"c":19,"z":-10000,"v":-1.4},
      {"c":20,"z":0,"v":0.1},{"c":20,"z":-1000,"v":0.1},{"c":20,"z":-2500,"v":0.2},{"c":20,"z":-4500,"v":0.3},{"c":20,"z":-7000,"v":0.3},{"c":20,"z":-10000,"v":0.4},
      {"c":21,"z":0,"v":0.6},{"c":21,"z":-1000,"v":0.5},{"c":21,"z":-2500,"v":0.3},{"c":21,"z":-4500,"v":0.0},{"c":21,"z":-7000,"v":-0.2},{"c":21,"z":-10000,"v":-0.5},
      {"c":22,"z":0,"v":1.1},{"c":22,"z":-1000,"v":1.2},{"c":22,"z":-2500,"v":1.2},{"c":22,"z":-4500,"v":1.4},{"c":22,"z":-7000,"v":1.5},{"c":22,"z":-10000,"v":1.6},
      {"c":23,"z":0,"v":1.6},{"c":23,"z":-1000,"v":1.3},{"c":23,"z":-2500,"v":0.8},{"c":23,"z":-4500,"v":0.2},{"c":23,"z":-7000,"v":-0.5},{"c":23,"z":-10000,"v":-1.1},
      {"c":24,"z":0,"v":2.1},{"c":24,"z":-1000,"v":1.9},{"c":24,"z":-2500,"v":1.7},{"c":24,"z":-4500,"v":1.4},{"c":24,"z":-7000,"v":1.0},{"c":24,"z":-10000,"v":0.7},
      {"c":25,"z":0,"v":2.6},{"c":25,"z":-1000,"v":2.3},{"c":25,"z":-2500,"v":1.8},{"c":25,"z":-4500,"v":1.2},{"c":25,"z":-7000,"v":0.5},{"c":25,"z":-10000,"v":-0.2},
      {"c":26,"z":0,"v":3.1},{"c":26,"z":-1000,"v":2.9},{"c":26,"z":-2500,"v":2.6},{"c":26,"z":-4500,"v":2.2},{"c":26,"z":-7000,"v":1.8},{"c":26,"z":-10000,"v":1.4},
      {"c":27,"z":0,"v":3.6},{"c":27,"z":-1000,"v":3.0},{"c":27,"z":-2500,"v":2.1},{"c":27,"z":-4500,"v":1.0},{"c":27,"z":-7000,"v":-0.3},{"c":27,"z":-10000,"v":-1.5},
      {"c":28,"z":0,"v":4.1},{"c":28,"z":-1000,"v":3.6},{"c":28,"z":-2500,"v":3.0},{"c":28,"z":-4500,"v":2.2},{"c":28,"z":-7000,"v":1.2},{"c":28,"z":-10000,"v":0.3},
      {"c":29,"z":0,"v":4.6},{"c":29,"z":-1000,"v":4.2},{"c":29,"z":-2500,"v":3.6},{"c":29,"z":-4500,"v":2.8},{"c":29,"z":-7000,"v":1.9},{"c":29,"z":-10000,"v":1.1},
      {"c":30,"z":0,"v":5.1},{"c":30,"z":-1000,"v":4.4},{"c":30,"z":-2500,"v":3.4},{"c":30,"z":-4500,"v":2.1},{"c":30,"z":-7000,"v":0.7},{"c":30,"z":-10000,"v":-0.7},
      {"c":31,"z":0,"v":5.6},{"c":31,"z":-1000,"v":5.0},{"c":31,"z":-2500,"v":4.1},{"c":31,"z":-4500,"v":3.0},{"c":31,"z":-7000,"v":1.8},{"c":31,"z":-10000,"v":0.6},
      {"c":32,"z":0,"v":6.1},{"c":32,"z":-1000,"v":5.3},{"c":32,"z":-2500,"v":4.2},{"c":32,"z":-4500,"v":2.8},{"c":32,"z":-7000,"v":1.1},{"c":32,"z":-10000,"v":-0.4},
      {"c":33,"z":0,"v":6.6},{"c":33,"z":-1000,"v":6.0},{"c":33,"z":-2500,"v":5.2},{"c":33,"z":-4500,"v":4.1},{"c":33,"z":-7000,"v":2.9},{"c":33,"z":-10000,"v":1.7},
      {"c":34,"z":0,"v":7.1},{"c":34,"z":-1000,"v":6.3},{"c":34,"z":-2500,"v":5.1},{"c":34,"z":-4500,"v":3.5},{"c":34,"z":-7000,"v":1.8},{"c":34,"z":-10000,"v":0.1},
      {"c":35,"z":0,"v":7.6},{"c":35,"z":-1000,"v":6.8},{"c":35,"z":-2500,"v":5.7},{"c":35,"z":-4500,"v":4.2},{"c":35,"z":-7000,"v":2.6},{"c":35,"z":-10000,"v":1.0},
      {"c":36,"z":0,"v":8.1},{"c":36,"z":-1000,"v":7.0},{"c":36,"z":-2500,"v":5.5},{"c":36,"z":-4500,"v":3.5},{"c":36,"z":-7000,"v":1.2},{"c":36,"z":-10000,"v":-0.9},
      {"c":37,"z":0,"v":8.6},{"c":37,"z":-1000,"v":7.8},{"c":37,"z":-2500,"v":6.5},{"c":37,"z":-4500,"v":5.0},{"c":37,"z":-7000,"v":3.2},{"c":37,"z":-10000,"v":1.5},
      {"c":38,"z":0,"v":9.1},{"c":38,"z":-1000,"v":8.1},{"c":38,"z":-2500,"v":6.7},{"c":38,"z":-4500,"v":4.9},{"c":38,"z":-7000,"v":2.8},{"c":38,"z":-10000,"v":0.8},
      {"c":39,"z":0,"v":9.7},{"c":39,"z":-1000,"v":8.7},{"c":39,"z":-2500,"v":7.2},{"c":39,"z":-4500,"v":5.4},{"c":39,"z":-7000,"v":3.3},{"c":39,"z":-10000,"v":1.3},
      {"c":40,"z":0,"v":15.8},{"c":40,"z":-1000,"v":12.3},{"c":40,"z":-2500,"v":8.2},{"c":40,"z":-4500,"v":4.9},{"c":40,"z":-7000,"v":3.1},{"c":40,"z":-10000,"v":2.7},
      {"c":41,"z":0,"v":-8.0},{"c":41,"z":-1000,"v":-7.1},{"c":41,"z":-2500,"v":-5.7},{"c":41,"z":-4500,"v":-4.0},{"c":41,"z":-7000,"v":-2.0},{"c":41,"z":-10000,"v":-0.1},
      {"c":42,"z":0,"v":3.8},{"c":42,"z":-1000,"v":3.6},{"c":42,"z":-2500,"v":3.2},{"c":42,"z":-4500,"v":2.8},{"c":42,"z":-7000,"v":2.3},{"c":42,"z":-10000,"v":1.8},
      {"c":43,"z":0,"v":-5.0},{"c":43,"z":-1000,"v":-4.6},{"c":43,"z":-2500,"v":-4.1},{"c":43,"z":-4500,"v":-3.4},{"c":43,"z":-7000,"v":-2.6},{"c":43,"z":-10000,"v":-1.8},
      {"c":44,"z":0,"v":-7.5},{"c":44,"z":-1000,"v":-6.4},{"c":44,"z":-2500,"v":-4.8},{"c":44,"z":-4500,"v":-2.8},{"c":44,"z":-7000,"v":-0.5},{"c":44,"z":-10000,"v":1.6},
      {"c":45,"z":0,"v":-6.3},{"c":45,"z":-1000,"v":-5.7},{"c":45,"z":-2500,"v":-4.8},{"c":45,"z":-4500,"v":-3.6},{"c":45,"z":-7000,"v":-2.3},{"c":45,"z":-10000,"v":-1.1},
      {"c":46,"z":0,"v":-3.0},{"c":46,"z":-1000,"v":-2.6},{"c":46,"z":-2500,"v":-1.9},{"c":46,"z":-4500,"v":-1.2},{"c":46,"z":-7000,"v":-0.3},{"c":46,"z":-10000,"v":0.6},
      {"c":47,"z":0,"v":1.0},{"c":47,"z":-1000,"v":0.7},{"c":47,"z":-2500,"v":0.2},{"c":47,"z":-4500,"v":-0.3},{"c":47,"z":-7000,"v":-1.0},{"c":47,"z":-10000,"v":-1.6},
      {"c":48,"z":0,"v":5.9},{"c":48,"z":-1000,"v":5.3},{"c":48,"z":-2500,"v":4.5},{"c":48,"z":-4500,"v":3.5},{"c":48,"z":-7000,"v":2.3},{"c":48,"z":-10000,"v":1.2},
      {"c":49,"z":0,"v":8.9},{"c":49,"z":-1000,"v":7.8},{"c":49,"z":-2500,"v":6.2},{"c":49,"z":-4500,"v":4.2},{"c":49,"z":-7000,"v":1.9},{"c":49,"z":-10000,"v":-0.2},
      {"c":50,"z":0,"v":-9.4},{"c":50,"z":-1000,"v":-8.2},{"c":50,"z":-2500,"v":-6.6},{"c":50,"z":-4500,"v":-4.4},{"c":50,"z":-7000,"v":-2.0},{"c":50,"z":-10000,"v":0.3},
      {"c":51,"z":0,"v":9.9},{"c":51,"z":-1000,"v":8.9},{"c":51,"z":-2500,"v":7.5},{"c":51,"z":-4500,"v":5.7},{"c":51,"z":-7000,"v":3.6},{"c":51,"z":-10000,"v":1.6}
    ],
    "band": [
      {"s":"sup","z":0,"v":10.25},{"s":"sup","z":-1000,"v":9.25},{"s":"sup","z":-2000,"v":8.25},{"s":"sup","z":-4000,"v":6.25},{"s":"sup","z":-6000,"v":4.5},{"s":"sup","z":-8000,"v":3.0},{"s":"sup","z":-10000,"v":1.8},
      {"s":"inf","z":0,"v":-10.25},{"s":"inf","z":-1000,"v":-9.25},{"s":"inf","z":-2000,"v":-8.25},{"s":"inf","z":-4000,"v":-6.25},{"s":"inf","z":-6000,"v":-4.5},{"s":"inf","z":-8000,"v":-3.0},{"s":"inf","z":-10000,"v":-1.8}
    ]
  },
  "bounds": "flush",
  "spacing": 91,
  "resolve": {"scale": {"color": "independent", "strokeDash": "independent"}},
  "hconcat": [
    {
      "title": "Dati Originali",
      "width": 259,
      "height": 283,
      "encoding": {
        "x": {"field": "v", "type": "quantitative", "scale": {"domain": [-22.4, 42.4], "nice": false, "zero": false}, "axis": {"values": [-20, -10, 0, 10, 20, 30, 40], "title": "Phi"}},
        "y": {"field": "z", "type": "quantitative", "scale": {"domain": [-10400, 400], "nice": false, "zero": false}, "axis": {"values": [0, -2000, -4000, -6000, -8000, -10000], "title": "−z"}}
      },
      "layer": [
        {
          "data": {"name": "orig"},
          "mark": {"type": "line", "clip": true, "strokeWidth": 1.2, "interpolate": "catmull-rom"},
          "encoding": {
            "detail": {"field": "c", "type": "nominal"},
            "order": {"field": "z", "type": "quantitative"},
            "color": {"datum": "Dato", "scale": {"domain": ["Dato", "Media"], "range": ["#bebebe", "#000000"]}, "legend": {"title": null, "orient": "bottom-left", "offset": 10}}
          }
        },
        {
          "data": {"values": [{"z": 0, "v": 18.65}, {"z": -10000, "v": 18.65}]},
          "mark": {"type": "line", "clip": true, "strokeWidth": 1.3},
          "encoding": {"color": {"datum": "Media"}}
        }
      ]
    },
    {
      "title": "Dati CV",
      "width": 259,
      "height": 283,
      "encoding": {
        "x": {"field": "v", "type": "quantitative", "scale": {"domain": [-22.4, 42.4], "nice": false, "zero": false}, "axis": {"values": [-20, -10, 0, 10, 20, 30, 40], "title": "Phi"}},
        "y": {"field": "z", "type": "quantitative", "scale": {"domain": [-10400, 400], "nice": false, "zero": false}, "axis": {"values": [0, -2000, -4000, -6000, -8000, -10000], "title": "−z"}}
      },
      "layer": [
        {
          "data": {"name": "cv"},
          "mark": {"type": "line", "clip": true, "strokeWidth": 1.2, "interpolate": "catmull-rom"},
          "encoding": {
            "detail": {"field": "c", "type": "nominal"},
            "order": {"field": "z", "type": "quantitative"},
            "color": {"datum": "Predetta", "scale": {"domain": ["Predetta", "Media"], "range": ["#bebebe", "#000000"]}, "legend": {"title": null, "orient": "bottom-left", "offset": 10}}
          }
        },
        {
          "data": {"values": [{"z": 0, "v": 18.65}, {"z": -10000, "v": 18.65}]},
          "mark": {"type": "line", "clip": true, "strokeWidth": 1.3},
          "encoding": {"color": {"datum": "Media"}}
        }
      ]
    },
    {
      "title": "Residuo CV",
      "width": 259,
      "height": 283,
      "encoding": {
        "x": {"field": "v", "type": "quantitative", "scale": {"domain": [-22.4, 42.4], "nice": false, "zero": false}, "axis": {"values": [-20, -10, 0, 10, 20, 30, 40], "title": "Phi"}},
        "y": {"field": "z", "type": "quantitative", "scale": {"domain": [-10400, 400], "nice": false, "zero": false}, "axis": {"values": [0, -2000, -4000, -6000, -8000, -10000], "title": "−z"}}
      },
      "layer": [
        {
          "data": {"name": "res"},
          "mark": {"type": "line", "clip": true, "strokeWidth": 1.2, "interpolate": "catmull-rom"},
          "encoding": {
            "detail": {"field": "c", "type": "nominal"},
            "order": {"field": "z", "type": "quantitative"},
            "color": {"datum": "Residuo", "scale": {"domain": ["Residuo", "Media", "+/− 2*Dev. Std."], "range": ["#bebebe", "#000000", "#000000"]}, "legend": {"title": null, "orient": "bottom-right", "offset": 2}},
            "strokeDash": {"datum": "Residuo", "scale": {"domain": ["Residuo", "Media", "+/− 2*Dev. Std."], "range": [[1, 0], [1, 0], [4, 3]]}, "legend": {"title": null, "orient": "bottom-right", "offset": 2}}
          }
        },
        {
          "data": {"values": [{"z": 0, "v": 0.05}, {"z": -10000, "v": 0.05}]},
          "mark": {"type": "line", "clip": true, "strokeWidth": 1.3},
          "encoding": {"color": {"datum": "Media"}, "strokeDash": {"datum": "Media"}}
        },
        {
          "data": {"name": "band"},
          "mark": {"type": "line", "clip": true, "strokeWidth": 1.2, "interpolate": "catmull-rom"},
          "encoding": {
            "detail": {"field": "s", "type": "nominal"},
            "order": {"field": "z", "type": "quantitative"},
            "color": {"datum": "+/− 2*Dev. Std."},
            "strokeDash": {"datum": "+/− 2*Dev. Std."}
          }
        }
      ]
    }
  ]
}
